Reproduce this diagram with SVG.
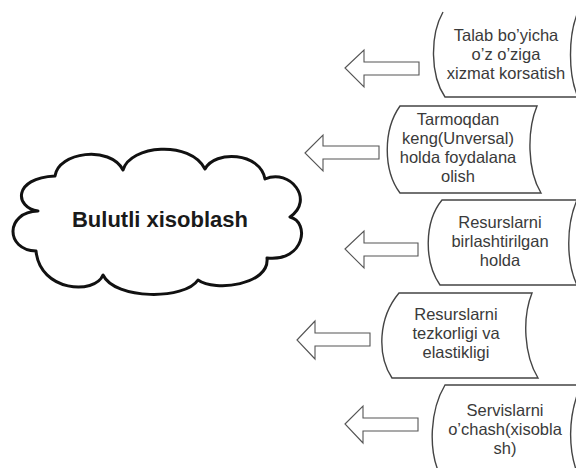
<svg xmlns="http://www.w3.org/2000/svg" width="576" height="468" viewBox="0 0 576 468">
<style>
.bg{fill:#ffffff}
.cloud{fill:#ffffff;stroke:#111111;stroke-width:3;stroke-linejoin:round}
.ctext{font-family:"Liberation Sans",Arial,sans-serif;font-weight:bold;font-size:22px;fill:#1a1a1a;text-anchor:middle}
.shape{fill:none;stroke:#444444;stroke-width:1.4}
.ntext{font-family:"Liberation Sans",Arial,sans-serif;font-size:16.5px;fill:#3a3a3a;text-anchor:middle}
.arrow{fill:#ffffff;stroke:#555555;stroke-width:1.1;stroke-linejoin:miter}
</style>
<rect class="bg" x="0" y="0" width="576" height="468"/>
<g id="cloud">
<path class="cloud" d="M38,211 C15,208 12,178 55,176 C58,152 110,145 123,170 C130,145 190,140 205,169 C215,150 260,152 265,179 C290,168 315,200 290,217 C310,222 305,262 267,258 C270,285 215,292 198,280 C185,300 115,300 103,275 C95,295 40,292 36,251 C5,250 5,212 38,211 Z"/>
<text class="ctext" x="160" y="227">Bulutli xisoblash</text>
</g>
<g id="connectors">
<polygon class="arrow" points="345,68 364,50 364,62 419,62 419,75 364,75 364,87"/>
<polygon class="arrow" points="305,153 323,135 323,146 379,146 379,159 323,159 323,171"/>
<polygon class="arrow" points="345,249 364,231 364,243 418,243 418,256 364,256 364,268"/>
<polygon class="arrow" points="297,340 315,321 315,333 370,333 370,346 315,346 315,359"/>
<polygon class="arrow" points="345,424 363,406 363,418 418,418 418,431 363,431 363,443"/>
</g>
<g id="node1">
<path class="shape" d="M443,12 C430,35 430,75 445,97 L580,97"/>
<path class="shape" d="M578,12 C568,35 568,75 578,97"/>
<text class="ntext" x="506" y="41">Talab bo’yicha</text>
<text class="ntext" x="506" y="60">o’z o’ziga</text>
<text class="ntext" x="506" y="79">xizmat korsatish</text>
</g>
<g id="node2">
<path class="shape" d="M400,106 L537,106 C527,130 527,170 541,193 L400,193 C383,170 383,130 400,106 Z"/>
<text class="ntext" x="458" y="125">Tarmoqdan</text>
<text class="ntext" x="458" y="144">keng(Unversal)</text>
<text class="ntext" x="458" y="163">holda foydalana</text>
<text class="ntext" x="458" y="182">olish</text>
</g>
<g id="node3">
<path class="shape" d="M580,200 L442,200 C424,222 424,262 440,285 L580,285"/>
<path class="shape" d="M577,200 C566,225 566,262 577,285"/>
<text class="ntext" x="500" y="228">Resurslarni</text>
<text class="ntext" x="500" y="247">birlashtirilgan</text>
<text class="ntext" x="500" y="266">holda</text>
</g>
<g id="node4">
<path class="shape" d="M399,293 L532,293 C522,318 524,355 538,378 L392,378 C377,355 378,318 399,293 Z"/>
<text class="ntext" x="456" y="320">Resurslarni</text>
<text class="ntext" x="456" y="339">tezkorligi va</text>
<text class="ntext" x="456" y="358">elastikligi</text>
</g>
<g id="node5">
<path class="shape" d="M580,385 L445,385 C430,410 428,450 440,475"/>
<path class="shape" d="M579,390 C568,418 568,450 578,475"/>
<text class="ntext" x="505" y="416">Servislarni</text>
<text class="ntext" x="505" y="435">o’chash(xisobla</text>
<text class="ntext" x="505" y="454">sh)</text>
</g>
</svg>
